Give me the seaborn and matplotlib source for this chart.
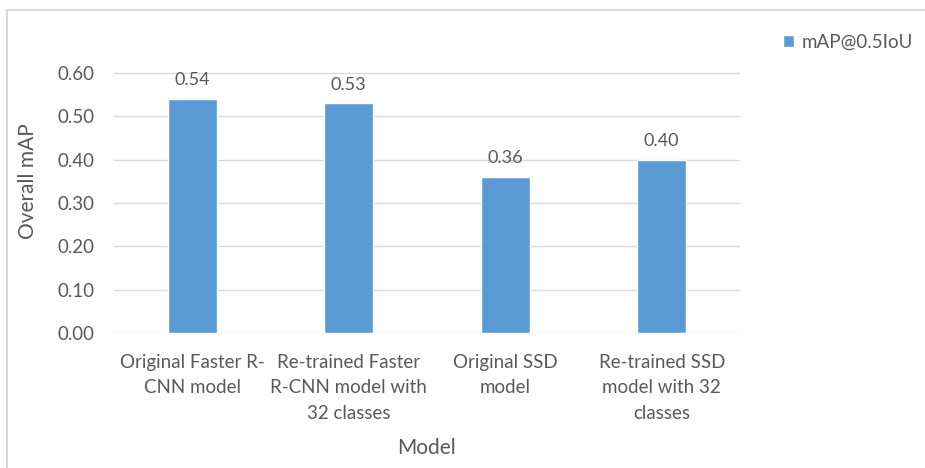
import matplotlib
matplotlib.use("Agg")
import matplotlib.pyplot as plt
from matplotlib.patches import Rectangle
import seaborn as sns
import pandas as pd

models = [
    "Original Faster R-\nCNN model",
    "Re-trained Faster\nR-CNN model with\n32 classes",
    "Original SSD\nmodel",
    "Re-trained SSD\nmodel with 32\nclasses",
]
map_values = [0.54, 0.53, 0.36, 0.40]
y_ticks = [0.0, 0.1, 0.2, 0.3, 0.4, 0.5, 0.6]
series_name = "mAP@0.5IoU"

bar_color = "#5B9BD5"
text_color = "#595959"
grid_color = "#D9D9D9"

sns.set_theme(style="white")
plt.rcParams["font.family"] = ["Lato", "DejaVu Sans"]

df = pd.DataFrame({"Model": models, "mAP": map_values, "series": series_name})

fig = plt.figure(figsize=(9.25, 4.68), dpi=100)
ax = fig.add_axes([114 / 925, 1 - 333 / 468, (740 - 114) / 925, (333 - 73) / 468 * 0.7 / 0.6])

sns.barplot(data=df, x="Model", y="mAP", hue="series", palette=[bar_color],
            saturation=1, width=0.31, ax=ax, zorder=3)

ax.set_ylim(0, 0.7)
ax.set_xlim(-0.5, len(models) - 0.5)
ax.set_yticks(y_ticks)
ax.set_yticklabels([f"{v:.2f}" for v in y_ticks])
for v in y_ticks:
    ax.axhline(v, color=grid_color, lw=1, zorder=1)

for i, v in enumerate(map_values):
    ax.text(i, v + 0.025, f"{v:.2f}", ha="center", va="bottom",
            fontsize=13, color=text_color)

for s in ax.spines.values():
    s.set_visible(False)
ax.tick_params(axis="both", length=0, labelsize=13.5, labelcolor=text_color)
ax.tick_params(axis="y", pad=14)
ax.tick_params(axis="x", pad=15)
for lbl in ax.get_xticklabels():
    lbl.set_linespacing(1.6)
ax.set_xlabel("Model", fontsize=15, color=text_color, labelpad=12)
ax.set_ylabel("Overall mAP", fontsize=15, color=text_color, labelpad=14)

leg = ax.legend(loc="center left", bbox_to_anchor=(766 / 925, 1 - 42 / 468),
                bbox_transform=fig.transFigure, frameon=False, fontsize=13.5,
                handlelength=0.6, handleheight=0.6, handletextpad=0.4)
for t in leg.get_texts():
    t.set_color(text_color)

fig.patches.append(Rectangle((7 / 925, -0.1), 1.1, 1 - 10 / 468 + 0.1,
                             transform=fig.transFigure, fill=False,
                             edgecolor=grid_color, lw=1.5))

fig.savefig("out.png", dpi=100, facecolor="white")
